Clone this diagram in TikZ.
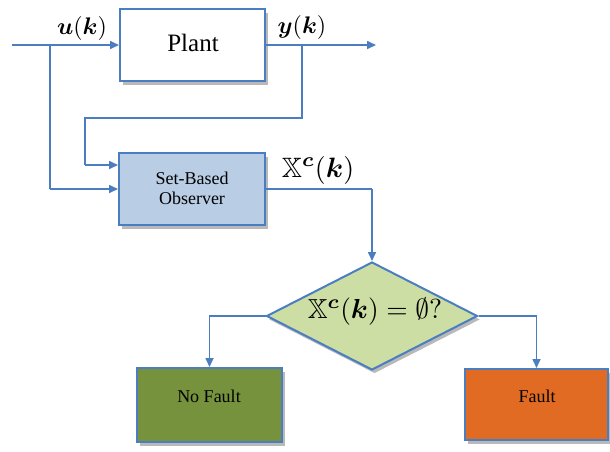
\documentclass[tikz,border=0pt]{standalone}
\usepackage{amssymb}
\usepackage{bm}
\usepackage{fontspec}
\setmainfont{Liberation Serif}
\usetikzlibrary{shapes.geometric,arrows.meta,shadows}
\definecolor{lineblue}{RGB}{74,126,193}
\definecolor{obsfill}{RGB}{185,205,229}
\definecolor{diafill}{RGB}{205,222,165}
\definecolor{nofill}{RGB}{118,146,60}
\definecolor{ffill}{RGB}{226,107,36}
\tikzset{
  blk/.style={draw=lineblue, line width=2pt, rectangle, inner sep=0pt, align=center,
    drop shadow={shadow xshift=2.5pt, shadow yshift=-3.5pt, fill=black!50, opacity=0.55}},
  boxtxt/.style={font=\fontsize{18}{20}\selectfont, inner sep=0pt, align=center},
  conn/.style={draw=lineblue, line width=1.6pt, -{Triangle[length=9pt,width=8pt]}},
  wire/.style={draw=lineblue, line width=1.6pt},
  lbl/.style={scale=2.4, inner sep=0pt}
}
\begin{document}
\begin{tikzpicture}[x=1pt,y=-1pt]
\useasboundingbox (0,0) rectangle (610,451);
\node[blk, fill=white, minimum width=145pt, minimum height=72pt] (plant) at (192.5,45) {};
\node[blk, fill=obsfill, minimum width=146pt, minimum height=72pt] (obs) at (192,189) {};
\node[draw=lineblue, line width=2pt, diamond, aspect=1.95, inner sep=0pt, minimum width=211pt, minimum height=108pt, fill=diafill,
  drop shadow={shadow xshift=2.5pt, shadow yshift=-3.5pt, fill=black!50, opacity=0.55}] (dia) at (372,316) {};
\node[blk, fill=nofill, minimum width=145pt, minimum height=74pt] (nof) at (209.5,405) {};
\node[blk, fill=ffill, minimum width=143pt, minimum height=71pt] (fault) at (536.5,404.5) {};

\node[boxtxt, font=\fontsize{25}{28}\selectfont] (ptext) at (193,43) {Plant};
\node[boxtxt] (otext) at (192,188) {Set-Based\\Observer};
\node[boxtxt] (ntext) at (209,396) {No Fault};
\node[boxtxt] (ftext) at (537,396) {Fault};
\node[scale=2.75, inner sep=0pt] (dtext) at (375,312) {$\mathbb{X}^{\bm{c}}(\bm{k})=\emptyset?$};

\coordinate (in) at (12,45);
\coordinate (out) at (376,45);
\coordinate (ub) at (50,45);
\coordinate (yb) at (302,45);
\coordinate (y1) at (302,118);
\coordinate (y2) at (85,118);
\coordinate (y3) at (85,165);
\coordinate (u1) at (50,189);
\coordinate (xc) at (372,189);

\draw[conn] (in) -- (plant.west);
\draw[conn] (plant.east) -- (out);
\draw[wire] (yb) -- (y1) -- (y2) -- (y3);
\draw[conn] (y3) -- (obs.west |- y3);
\draw[wire] (ub) -- (u1);
\draw[conn] (u1) -- (obs.west);
\draw[wire] (obs.east) -- (xc);
\draw[conn] (xc) -- (dia.north);
\draw[conn] (dia.west) -| (nof.north);
\draw[conn] (dia.east) -| (fault.north);

\node[lbl] (ul) at (82,28) {$\bm{u}(\bm{k})$};
\node[lbl] (yl) at (302,27) {$\bm{y}(\bm{k})$};
\node[lbl, scale=2.8/2.4] (xl) at (318,170) {$\mathbb{X}^{\bm{c}}(\bm{k})$};
\end{tikzpicture}
\end{document}
